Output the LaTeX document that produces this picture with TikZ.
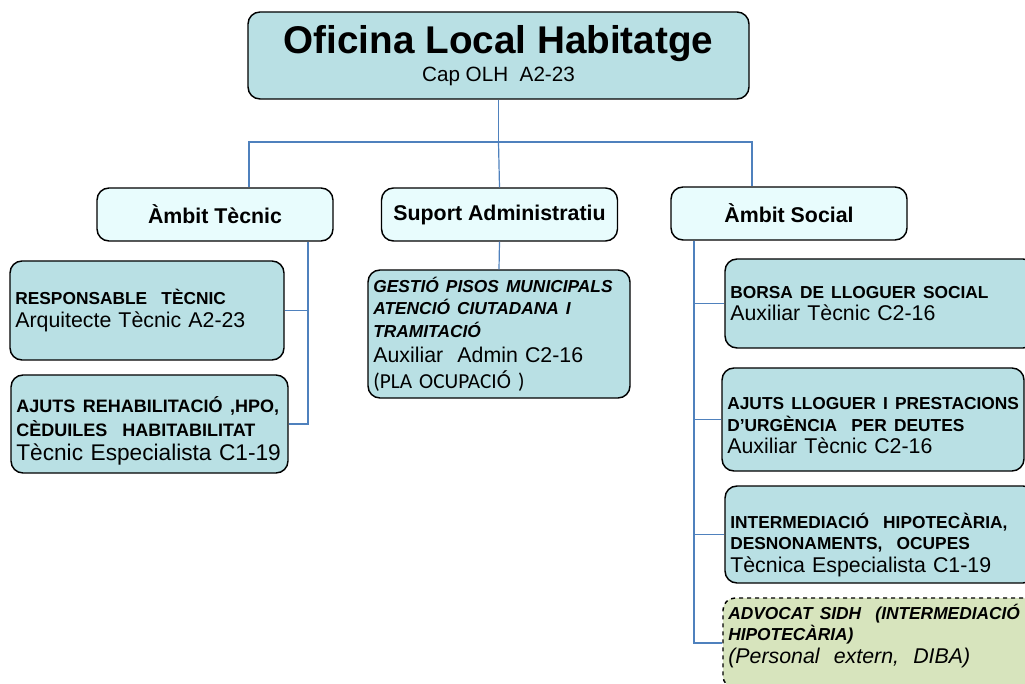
\documentclass[tikz,border=0pt]{standalone}
\usepackage{fontspec}
\setmainfont{Liberation Sans}
\newfontfamily\calibrifont{Carlito}
\usetikzlibrary{calc}

\definecolor{olhteal}{RGB}{185,224,228}
\definecolor{olhpale}{RGB}{232,252,253}
\definecolor{olhgreen}{RGB}{215,228,189}
\definecolor{linkblue}{RGB}{79,129,189}

\def\roletxt#1{\mbox{\fontsize{13}{16}\selectfont\bfseries #1}}
\def\roleit#1{\mbox{\fontsize{13}{16}\selectfont\bfseries\itshape #1}}
\def\padtop#1{\rule{0pt}{#1}}

\tikzset{
	box/.style={draw=black, line width=1.1pt, rounded corners=9pt},
	headbox/.style={box, fill=olhteal, align=center, minimum width=375.75pt, minimum height=65.25pt},
	areabox/.style={box, fill=olhpale, minimum width=177pt, minimum height=39.75pt, font=\fontsize{16}{19}\selectfont\bfseries},
	postbox/.style={box, fill=olhteal, align=left, inner xsep=4pt, text width=#1, font=\fontsize{16}{17}\selectfont},
	extbox/.style={postbox=#1, fill=olhgreen, dashed},
	link/.style={draw=linkblue, line width=0.9pt},
}

\begin{document}
\begin{tikzpicture}[x=0.75pt, y=-0.75pt]
		%%%%% START %%%%%
		
		\clip (0, 0) rectangle (1025, 684);
		
		\node[headbox] (olh) at (498.5, 55.5) {{\fontsize{29}{33}\selectfont\bfseries Oficina Local Habitatge}\\[3pt]{\fontsize{15.5}{18}\selectfont Cap OLH\ \ A2-23}};
		
		\node[areabox] (tecnic) at (215, 214.5) {Àmbit Tècnic};
		\node[areabox] (suport) at (499.5, 214.5) {Suport Administratiu};
		\node[areabox] (social) at (789, 213.5) {Àmbit Social};
		
		\node[postbox=197.5pt, minimum height=74.25pt] (resp) at (147, 310.5) {\roletxt{RESPONSABLE\ \ TÈCNIC}\\Arquitecte Tècnic A2-23};
		\node[postbox=199.75pt, minimum height=73.5pt, font=\fontsize{17}{18}\selectfont] (rehab) at (149.5, 424) {\mbox{\fontsize{13.5}{16}\selectfont\bfseries\padtop{22pt}AJUTS REHABILITACIÓ ,HPO,}\\\mbox{\fontsize{13.5}{16}\selectfont\bfseries CÈDUILES\ \ HABITABILITAT}\\\mbox{Tècnic Especialista C1-19}};
		
		\node[postbox=188.5pt, minimum height=96pt] (gestio) at (499, 334) {\roleit{GESTIÓ PISOS MUNICIPALS}\\[0pt]\roleit{ATENCIÓ CIUTADANA I}\\[0pt]\roleit{TRAMITACIÓ}\\[2pt]Auxiliar\ \ Admin C2-16\\[2pt]{\calibrifont (PLA OCUPACIÓ )}};
		
		\node[postbox=224.5pt, minimum height=66.75pt] (borsa) at (880, 303.5) {\roletxt{BORSA DE LLOGUER SOCIAL}\\Auxiliar Tècnic C2-16};
		\node[postbox=218.5pt, minimum height=77.25pt] (lloguer) at (873, 419.5) {\roletxt{\padtop{18.5pt}AJUTS LLOGUER I PRESTACIONS}\\[-1pt]\roletxt{D'URGÈNCIA\ \ PER DEUTES}\\Auxiliar Tècnic C2-16};
		\node[postbox=224.5pt, minimum height=72.75pt] (hipo) at (880, 534.5) {\roletxt{\padtop{27pt}INTERMEDIACIÓ\ \ HIPOTECÀRIA,}\\[-1pt]\roletxt{DESNONAMENTS,\ \ OCUPES}\\Tècnica Especialista C1-19};
		\node[extbox=226pt, minimum height=67.5pt, font=\fontsize{16}{17}\selectfont\itshape] (advocat) at (879, 643) {\roleit{ADVOCAT SIDH\ \ (INTERMEDIACIÓ}\\[-1pt]\roleit{HIPOTECÀRIA)}\\(Personal\ \ extern,\ \ DIBA)\rule[-14pt]{0pt}{14pt}};
		
		% connectors
		\coordinate (busL) at (249, 142);
		\coordinate (busR) at (752, 142);
		\coordinate (trunkL) at (308, 0);
		\coordinate (trunkR) at (694, 0);
		
		\draw[link] (olh.south) -- (olh.south |- busL);
		\draw[link] (tecnic.north -| busL) -- (busL) -- (busR) -- (social.north -| busR);
		\draw[link] (olh.south |- busL) -- (suport.north);
		
		\draw[link] (tecnic.south -| trunkL) |- (resp.east);
		\draw[link] (tecnic.south -| trunkL) |- (rehab.east);
		
		\draw[link] (suport.south) -- (gestio.north);
		
		\draw[link] (social.south -| trunkR) |- (borsa.west);
		\draw[link] (social.south -| trunkR) |- (lloguer.west);
		\draw[link] (social.south -| trunkR) |- (hipo.west);
		\draw[link] (social.south -| trunkR) |- (advocat.west);
		
		%%%%% END %%%%%
	\end{tikzpicture}
\end{document}
